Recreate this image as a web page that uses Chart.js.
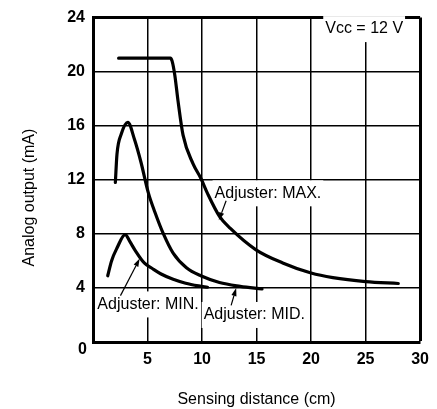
<!DOCTYPE html>
<html>
<head>
<meta charset="utf-8">
<script src="https://cdn.jsdelivr.net/npm/chart.js@4.4.1/dist/chart.umd.min.js"></script>
<style>
  html, body { margin: 0; padding: 0; background: #fff; }
  #wrap { width: 437px; height: 409px; }
</style>
</head>
<body>
<div id="wrap"><canvas id="c" width="437" height="409"></canvas></div>
<script>
// ---- data ----
const xTicks = [0, 5, 10, 15, 20, 25, 30];
const yTicks = [0, 4, 8, 12, 16, 20, 24];

const maxX = [2.35, 7.1, 7.25, 7.5, 7.8, 8.26, 9.17, 9.9, 10.5, 11.6, 12.6, 14.95, 17.4, 20.0, 22.0, 25.0, 28.0];
const maxY = [21.0, 21.0, 20.8, 19.76, 17.82, 15.3, 13.2, 12.1, 11.0, 9.3, 8.4, 6.82, 5.85, 5.1, 4.76, 4.47, 4.33];

const midX = [2.05, 2.2, 2.6, 3.2, 3.8, 4.4, 5.07, 5.68, 6.44, 7.35, 8.57, 9.94, 11.6, 13.5, 15.5];
const midY = [11.8, 13.9, 15.4, 16.25, 15.0, 13.3, 11.05, 9.6, 8.03, 6.57, 5.49, 4.88, 4.4, 4.12, 3.92];

const minX = [1.35, 1.7, 2.2, 2.95, 3.4, 3.85, 4.7, 5.5, 6.2, 7.35, 8.5, 9.7, 10.5];
const minY = [4.9, 6.0, 6.95, 7.95, 7.4, 6.8, 5.85, 5.4, 5.05, 4.64, 4.35, 4.15, 4.05];

const xTitle = "Sensing distance (cm)";
const yTitle = "Analog output (mA)";
const cornerLabel = "0";

// annotation texts (left edge / vertical centre in data units)
const noteTexts = ["Vcc = 12 V", "Adjuster: MAX.", "Adjuster: MIN.", "Adjuster: MID."];
const noteX = [21.3, 11.15, 0.4, 10.15];
const noteY = [23.15, 11.0, 2.78, 2.0];
// arrows: tail -> head (data units)
const arrowTailX = [12.21, 2.52, 12.67];
const arrowTailY = [10.45, 3.43, 2.71];
const arrowHeadX = [11.54, 4.28, 13.13];
const arrowHeadY = [9.0, 6.17, 3.99];

// ---- chart ----
const FONT = "'Liberation Sans', Arial, Helvetica, sans-serif";
const toPts = (xs, ys) => xs.map((x, i) => ({x: x, y: ys[i]}));

const notesPlugin = {
  id: 'notes',
  beforeDatasetsDraw(chart) {
    const {ctx, scales: {x, y}} = chart;
    ctx.save();
    ctx.font = "16px " + FONT;
    ctx.textBaseline = 'middle';
    ctx.textAlign = 'left';
    noteTexts.forEach((t, i) => {
      const px = x.getPixelForValue(noteX[i]);
      const py = y.getPixelForValue(noteY[i]);
      const w = ctx.measureText(t).width;
      ctx.fillStyle = '#fff';
      ctx.fillRect(px - 2, py - 13, w + 4, 26);
      ctx.fillStyle = '#000';
      ctx.fillText(t, px, py);
    });
    ctx.strokeStyle = '#000';
    ctx.fillStyle = '#000';
    ctx.lineWidth = 1.2;
    arrowTailX.forEach((tx, i) => {
      const x0 = x.getPixelForValue(tx), y0 = y.getPixelForValue(arrowTailY[i]);
      const x1 = x.getPixelForValue(arrowHeadX[i]), y1 = y.getPixelForValue(arrowHeadY[i]);
      const ang = Math.atan2(y1 - y0, x1 - x0);
      const L = 8, W = 2.6;
      const bx = x1 - L * Math.cos(ang), by = y1 - L * Math.sin(ang);
      ctx.beginPath();
      ctx.moveTo(x0, y0);
      ctx.lineTo(bx, by);
      ctx.stroke();
      ctx.beginPath();
      ctx.moveTo(x1, y1);
      ctx.lineTo(bx + W * Math.sin(ang), by - W * Math.cos(ang));
      ctx.lineTo(bx - W * Math.sin(ang), by + W * Math.cos(ang));
      ctx.closePath();
      ctx.fill();
    });
    // corner "0" label sits just below the origin, left of the axis
    ctx.font = "bold 16px " + FONT;
    ctx.textAlign = 'right';
    ctx.fillText(cornerLabel, x.left - 6, y.getPixelForValue(0) + 8);
    ctx.restore();
  }
};

const lineStyle = {
  borderColor: '#000',
  backgroundColor: '#000',
  borderWidth: 3.2,
  pointRadius: 0,
  showLine: true,
  fill: false,
  cubicInterpolationMode: 'monotone',
  borderCapStyle: 'round',
  borderJoinStyle: 'round'
};

new Chart(document.getElementById('c'), {
  type: 'scatter',
  data: {
    datasets: [
      Object.assign({label: 'Adjuster: MAX.', data: toPts(maxX, maxY)}, lineStyle),
      Object.assign({label: 'Adjuster: MID.', data: toPts(midX, midY)}, lineStyle),
      Object.assign({label: 'Adjuster: MIN.', data: toPts(minX, minY)}, lineStyle)
    ]
  },
  options: {
    responsive: false,
    animation: false,
    events: [],
    layout: { padding: { top: 11, right: 15, bottom: 0, left: 0 } },
    plugins: { legend: { display: false }, tooltip: { enabled: false } },
    scales: {
      x: {
        type: 'linear',
        min: xTicks[0], max: xTicks[xTicks.length - 1],
        afterBuildTicks: (s) => { s.ticks = xTicks.map(v => ({value: v})); },
        afterFit: (s) => { s.height = 67; },
        ticks: {
          color: '#000',
          font: { family: FONT, size: 16, weight: 'bold' },
          padding: 8,
          maxRotation: 0,
          callback: (v) => (v === 0 ? '' : String(v))
        },
        grid: {
          color: '#000',
          lineWidth: (c) => (c.tick && c.tick.value === xTicks[xTicks.length - 1] ? 3 : 1.5),
          drawTicks: false
        },
        border: { color: '#000', width: 3 },
        title: {
          display: true, text: xTitle, color: '#000',
          font: { family: FONT, size: 16 },
          padding: { top: 4, bottom: 0 }
        }
      },
      y: {
        type: 'linear',
        min: yTicks[0], max: yTicks[yTicks.length - 1],
        afterBuildTicks: (s) => { s.ticks = yTicks.map(v => ({value: v})); },
        afterFit: (s) => { s.width = 93; },
        ticks: {
          color: '#000',
          font: { family: FONT, size: 16, weight: 'bold' },
          padding: 8,
          callback: (v) => (v === 0 ? '' : String(v))
        },
        grid: {
          color: '#000',
          lineWidth: (c) => (c.tick && c.tick.value === yTicks[yTicks.length - 1] ? 3 : 1.5),
          drawTicks: false
        },
        border: { color: '#000', width: 3 },
        title: {
          display: true, text: yTitle + "        ", color: '#000',
          font: { family: FONT, size: 16 },
          padding: { top: 20, bottom: 0 }
        }
      }
    }
  },
  plugins: [notesPlugin]
});
</script>
</body>
</html>
